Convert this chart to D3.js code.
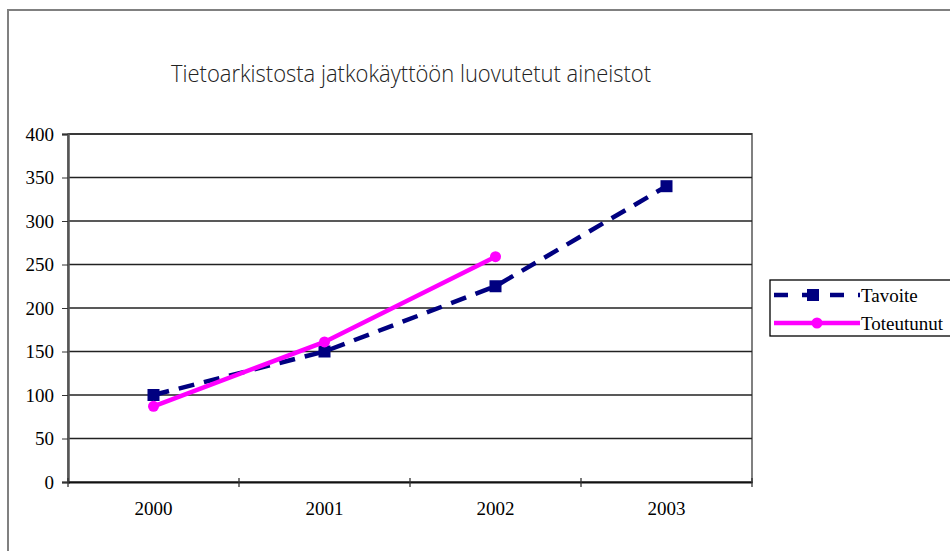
<!DOCTYPE html>
<html><head><meta charset="utf-8">
<script src="https://cdn.jsdelivr.net/npm/d3@7"></script>
<style>body{margin:0;background:#fff}svg{display:block}
.tk text{font-family:"Liberation Serif",serif !important;font-size:19px !important;fill:#000}</style>
</head><body>
<script>
const title = "Tietoarkistosta jatkokäyttöön luovutetut aineistot";
const years = ["2000","2001","2002","2003"];
const tavoite = [100,150,225,340];
const toteutunut = [87,161,259];
const yTicks = [0,50,100,150,200,250,300,350,400];
const seriesNames = ["Tavoite","Toteutunut"];

const W=950,H=551;
const svg=d3.select("body").append("svg").attr("width",W).attr("height",H);
svg.append("rect").attr("x",8).attr("y",10).attr("width",1000).attr("height",1000)
  .attr("fill","#fff").attr("stroke","#808080").attr("stroke-width",2);

const L=68,R=752,T=134,B=482;
const x=d3.scaleBand().domain(years).range([L,R]);
const y=d3.scaleLinear().domain([0,400]).range([B,T]);

svg.append("rect").attr("x",L).attr("y",T).attr("width",R-L).attr("height",B-T)
  .attr("fill","#fff").attr("stroke","#808080").attr("stroke-width",2);
svg.append("g").selectAll("line").data(yTicks.filter(d=>d>0)).join("line")
  .attr("x1",L).attr("x2",R).attr("y1",d=>y(d)).attr("y2",d=>y(d))
  .attr("stroke","#222").attr("stroke-width",1.3);

const ya=svg.append("g").attr("class","tk").attr("transform",`translate(${L},0)`)
  .call(d3.axisLeft(y).tickValues(yTicks).tickSize(6).tickPadding(8));
ya.attr("font-family",null).attr("font-size",null);
ya.select(".domain").attr("stroke","#555").attr("stroke-width",2.5);
ya.selectAll(".tick line").attr("stroke","#333");

const xa=svg.append("g").attr("class","tk").attr("transform",`translate(0,${B})`)
  .call(d3.axisBottom(x).tickSize(0).tickPadding(20));
xa.attr("font-family",null).attr("font-size",null);
xa.select(".domain").attr("stroke","#111").attr("stroke-width",2);
const bounds=years.map(d=>x(d)).concat([R]);
xa.append("g").selectAll("line").data(bounds).join("line")
  .attr("x1",d=>d).attr("x2",d=>d).attr("y1",-4).attr("y2",5).attr("stroke","#333").attr("stroke-width",1.3);

const cx=d=>x(d)+x.bandwidth()/2;
const line=d3.line().x(d=>cx(d[0])).y(d=>y(d[1]));
const tv=years.map((d,i)=>[d,tavoite[i]]);
const tt=toteutunut.map((v,i)=>[years[i],v]);

svg.append("path").attr("d",line(tv)).attr("fill","none").attr("stroke","#000080")
  .attr("stroke-width",4.5).attr("stroke-dasharray","16,10");
svg.append("g").selectAll("rect").data(tv).join("rect")
  .attr("x",d=>cx(d[0])-6).attr("y",d=>y(d[1])-6).attr("width",12).attr("height",12).attr("fill","#000080");

svg.append("path").attr("d",line(tt)).attr("fill","none").attr("stroke","#FF00FF").attr("stroke-width",4.5);
svg.append("g").selectAll("circle").data(tt).join("circle")
  .attr("cx",d=>cx(d[0])).attr("cy",d=>y(d[1])).attr("r",5.5).attr("fill","#FF00FF");

svg.append("text").attr("x",411).attr("y",82).attr("text-anchor","middle")
  .attr("font-family","Open Sans").attr("font-weight",300).attr("font-size",24)
  .attr("textLength",480).attr("lengthAdjust","spacingAndGlyphs")
  .attr("fill","#222").text(title);

const lg=svg.append("g");
lg.append("rect").attr("x",770).attr("y",280).attr("width",200).attr("height",56)
  .attr("fill","#fff").attr("stroke","#000").attr("stroke-width",1.3);
const ly=[295,323];
lg.append("line").attr("x1",774).attr("x2",860).attr("y1",ly[0]).attr("y2",ly[0])
  .attr("stroke","#000080").attr("stroke-width",4.5).attr("stroke-dasharray","14,14");
lg.append("rect").attr("x",807).attr("y",ly[0]-6).attr("width",12).attr("height",12).attr("fill","#000080");
lg.append("line").attr("x1",774).attr("x2",860).attr("y1",ly[1]).attr("y2",ly[1])
  .attr("stroke","#FF00FF").attr("stroke-width",4.5);
lg.append("circle").attr("cx",817).attr("cy",ly[1]).attr("r",5.5).attr("fill","#FF00FF");
lg.selectAll("text.l").data(seriesNames).join("text").attr("class","l")
  .attr("x",861).attr("y",(d,i)=>ly[i]+7).attr("font-family","Liberation Serif")
  .attr("font-size",19).attr("fill","#000").text(d=>d);
</script>
</body></html>
